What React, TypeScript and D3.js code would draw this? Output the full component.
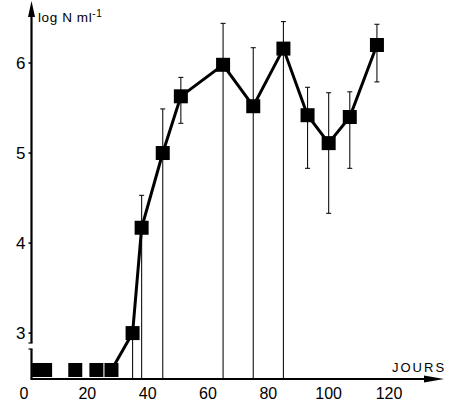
import React from "react";
import * as d3 from "d3";

const days = [4, 6, 16, 23, 28, 35, 38, 45, 51, 65, 75, 85, 93, 100, 107, 116];
const logN = [2.59, 2.59, 2.59, 2.59, 2.59, 3.0, 4.17, 5.0, 5.63, 5.98, 5.52, 6.16, 5.42, 5.11, 5.4, 6.2];
const FLOOR = 2.49; // bottom of the y axis (below detection)
const errHigh: (number | null)[] = [null, null, null, null, null, null, 4.53, 5.49, 5.84, 6.44, 6.17, 6.46, 5.73, 5.67, 5.68, 6.43];
const errLow: (number | null)[] = [null, null, null, null, null, FLOOR, FLOOR, FLOOR, 5.33, FLOOR, FLOOR, FLOOR, 4.83, 4.33, 4.83, 5.79];
const xTicks = [0, 20, 40, 60, 80, 100, 120];
const yTicks = [3, 4, 5, 6];
const lineStartIndex = 4;

const W = 457;
const H = 405;

export default function App() {
  const x = d3.scaleLinear().domain([0, 120]).range([27, 389]);
  const y = d3.scaleLinear().domain([FLOOR, 6]).range([379, 63]);
  const axisX = 31.5;
  const axisY = y(FLOOR);
  const sq = 14;
  const pts = days.map((d, i) => ({ d, v: logN[i], hi: errHigh[i], lo: errLow[i] }));
  const line = d3
    .line<{ d: number; v: number }>()
    .x((p) => x(p.d))
    .y((p) => y(p.v));
  const font = "'Liberation Sans', Arial, Helvetica, sans-serif";
  const breakY = 343;

  return (
    <svg
      width={W}
      height={H}
      style={{ position: "absolute", left: 0, top: 0, background: "#fff" }}
      fontFamily={font}
    >
      <rect width={W} height={H} fill="#fff" />
      {/* error bars / drop lines */}
      {pts.map((p, i) => (
        <g key={"e" + i} stroke="#111" strokeWidth={1.1}>
          {p.hi !== null && (
            <>
              <line x1={x(p.d)} x2={x(p.d)} y1={y(p.v)} y2={y(p.hi)} />
              <line x1={x(p.d) - 2.5} x2={x(p.d) + 2.5} y1={y(p.hi)} y2={y(p.hi)} />
            </>
          )}
          {p.lo !== null && (
            <>
              <line x1={x(p.d)} x2={x(p.d)} y1={y(p.v)} y2={y(p.lo)} />
              {p.lo > FLOOR && (
                <line x1={x(p.d) - 2.5} x2={x(p.d) + 2.5} y1={y(p.lo)} y2={y(p.lo)} />
              )}
            </>
          )}
        </g>
      ))}
      {/* main line */}
      <path
        d={line(pts.slice(lineStartIndex)) || ""}
        fill="none"
        stroke="#000"
        strokeWidth={3}
        strokeLinejoin="miter"
      />
      {/* squares */}
      {pts.map((p, i) => (
        <rect
          key={"s" + i}
          x={x(p.d) - sq / 2}
          y={y(p.v) - sq / 2}
          width={sq}
          height={sq}
          fill="#000"
        />
      ))}
      {/* y axis with break */}
      <line x1={axisX} x2={axisX} y1={12} y2={breakY} stroke="#000" strokeWidth={2.2} />
      <line x1={axisX} x2={axisX} y1={breakY + 6} y2={axisY} stroke="#000" strokeWidth={2.2} />
      <line x1={axisX - 3} x2={axisX + 1} y1={breakY} y2={breakY} stroke="#000" strokeWidth={1.2} />
      <line x1={axisX - 3} x2={axisX + 1} y1={breakY + 6} y2={breakY + 6} stroke="#000" strokeWidth={1.2} />
      <path d={`M${axisX},1 L${axisX - 3.5},17 L${axisX + 3.5},17 Z`} fill="#000" />
      {yTicks.map((t) => (
        <g key={"yt" + t}>
          <line x1={axisX - 3} x2={axisX} y1={y(t)} y2={y(t)} stroke="#000" strokeWidth={1.5} />
          <text x={axisX - 6} y={y(t) + 6} fontSize={17} textAnchor="end" fill="#000">
            {t}
          </text>
        </g>
      ))}
      <text x={38} y={22} fontSize={13.5} fill="#000" letterSpacing={0.6}>
        log N ml
        <tspan dy={-5} fontSize={10}>
          -1
        </tspan>
      </text>
      {/* x axis */}
      <line x1={axisX - 1} x2={428} y1={axisY} y2={axisY} stroke="#000" strokeWidth={2.2} />
      <path d={`M444,${axisY} L424,${axisY - 3.5} L424,${axisY + 3.5} Z`} fill="#000" />
      {xTicks.map((t) => (
        <text
          key={"xt" + t}
          x={x(t)}
          dx={t === 0 ? -3 : 0}
          y={399}
          fontSize={16}
          textAnchor="middle"
          fill="#000"
        >
          {t}
        </text>
      ))}
      <text x={392} y={372} fontSize={13} fill="#000" letterSpacing={2}>
        JOURS
      </text>
    </svg>
  );
}
